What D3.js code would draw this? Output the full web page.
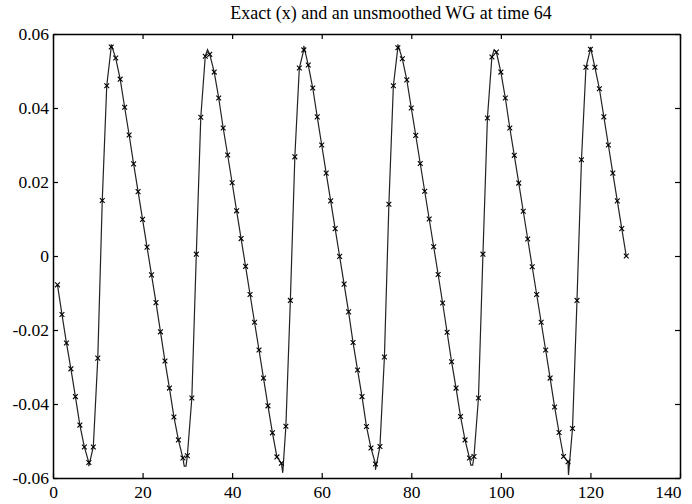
<!DOCTYPE html>
<html>
<head>
<meta charset="utf-8">
<script src="https://cdn.jsdelivr.net/npm/d3@7"></script>
<style>
  body { margin: 0; background: #fff; }
  svg text { font-family: "Liberation Serif", "Times New Roman", serif; fill: #000; }
</style>
</head>
<body>
<script>
// WG solution sampled at the grid points x = 1..128 (plotted with x markers)
var gridX = d3.range(1, 129);
var wgValues = [
  -0.0078, -0.0158, -0.0235, -0.0305, -0.0380, -0.0457, -0.0516, -0.0558, -0.0516, -0.0276,
   0.0150,  0.0460,  0.0565,  0.0535,  0.0478,  0.0402,  0.0327,  0.0249,  0.0174,  0.0099,
   0.0024, -0.0051, -0.0126, -0.0205, -0.0284, -0.0357, -0.0435, -0.0497, -0.0546, -0.0540,
  -0.0384,  0.0005,  0.0375,  0.0540,  0.0545,  0.0497,  0.0427,  0.0346,  0.0273,  0.0198,
   0.0122,  0.0047, -0.0028, -0.0104, -0.0179, -0.0254, -0.0330, -0.0405, -0.0478, -0.0543,
  -0.0560, -0.0460, -0.0120,  0.0268,  0.0508,  0.0557,  0.0516,  0.0454,  0.0376,  0.0300,
   0.0224,  0.0149,  0.0074, -0.0001,
  -0.0076, -0.0151, -0.0234, -0.0308, -0.0380, -0.0461, -0.0519, -0.0562, -0.0515, -0.0273,
   0.0140,  0.0460,  0.0563,  0.0533,  0.0476,  0.0400,  0.0326,  0.0250,  0.0175,  0.0100,
   0.0025, -0.0050, -0.0127, -0.0206, -0.0286, -0.0357, -0.0434, -0.0497, -0.0546, -0.0542,
  -0.0384,  0.0005,  0.0373,  0.0538,  0.0551,  0.0497,  0.0427,  0.0346,  0.0272,  0.0197,
   0.0121,  0.0046, -0.0029, -0.0104, -0.0179, -0.0254, -0.0330, -0.0408, -0.0477, -0.0542,
  -0.0556, -0.0466, -0.0120,  0.0260,  0.0510,  0.0559,  0.0510,  0.0452,  0.0376,  0.0300,
   0.0224,  0.0149,  0.0074,  0.0000
];

// extra turning points of the exact curve (it dips / peaks past the samples)
var exactExtraX = [8.0, 13.0, 29.3, 29.7, 34.5, 51.3, 56.0, 72.0, 77.0, 93.3, 93.7, 98.5, 115.1, 120.0];
var exactExtraY = [-0.0568, 0.0572, -0.0568, -0.0568, 0.0558, -0.0586, 0.0568, -0.0578, 0.0572, -0.0565, -0.0565, 0.0557, -0.0592, 0.0565];

var xTicks = [0, 20, 40, 60, 80, 100, 120, 140];
var yTicks = [-0.06, -0.04, -0.02, 0, 0.02, 0.04, 0.06];
var yTickLabels = ["-0.06", "-0.04", "-0.02", "0", "0.02", "0.04", "0.06"];
var title = "Exact (x) and an unsmoothed WG at time 64";

function init(){
    var w = 692;
    var h = 504;
    var left = 53, right = 680, top = 34, bottom = 478;

    var svg = d3.select("body")
                .append("svg")
                .attr("width", w)
                .attr("height", h);

    var x = d3.scaleLinear().domain([0, 140]).range([left, right]);
    var y = d3.scaleLinear().domain([-0.06, 0.06]).range([bottom, top]);

    // exact curve: samples plus its turning points, sorted by x
    var exact = gridX.map(function(d, i){ return [d, wgValues[i]]; })
        .concat(exactExtraX.map(function(d, i){ return [d, exactExtraY[i]]; }))
        .sort(function(a, b){ return a[0] - b[0]; });

    var line = d3.line()
                 .x(function(d){ return x(d[0]); })
                 .y(function(d){ return y(d[1]); });

    svg.append("path")
       .datum(exact)
       .attr("fill", "none")
       .attr("stroke", "#222")
       .attr("stroke-width", 1.2)
       .attr("d", line);

    // x markers
    var s = 2.4;
    svg.selectAll("path.mark")
       .data(gridX)
       .enter()
       .append("path")
       .attr("class", "mark")
       .attr("fill", "none")
       .attr("stroke", "#000")
       .attr("stroke-width", 1.1)
       .attr("d", function(d, i){
           var cx = x(d), cy = y(wgValues[i]);
           return "M" + (cx - s) + "," + (cy - s) + "L" + (cx + s) + "," + (cy + s) +
                  "M" + (cx - s) + "," + (cy + s) + "L" + (cx + s) + "," + (cy - s);
       });

    // axes with inward ticks on all four sides
    var yFmt = function(d){ return yTickLabels[yTicks.indexOf(d)]; };

    var gx = svg.append("g")
       .attr("transform", "translate(0," + bottom + ")")
       .call(d3.axisBottom(x).tickValues(xTicks).tickSizeInner(-5).tickSizeOuter(0).tickPadding(8));
    var gy = svg.append("g")
       .attr("transform", "translate(" + left + ",0)")
       .call(d3.axisLeft(y).tickValues(yTicks).tickFormat(yFmt).tickSizeInner(-5).tickSizeOuter(0).tickPadding(4));
    var gt = svg.append("g")
       .attr("transform", "translate(0," + top + ")")
       .call(d3.axisTop(x).tickValues(xTicks).tickFormat("").tickSizeInner(-5).tickSizeOuter(0));
    var gr = svg.append("g")
       .attr("transform", "translate(" + right + ",0)")
       .call(d3.axisRight(y).tickValues(yTicks).tickFormat("").tickSizeInner(-5).tickSizeOuter(0));

    [gx, gy, gt, gr].forEach(function(g){
        g.selectAll("path.domain").attr("stroke", "#000").attr("stroke-width", 1.5);
        g.selectAll(".tick line").attr("stroke", "#000").attr("stroke-width", 1.2);
        g.selectAll("text")
         .attr("font-family", "'Liberation Serif', 'Times New Roman', serif")
         .attr("font-size", 17.5)
         .attr("fill", "#000");
    });

    // last x label is pulled in so it ends at the frame
    gx.selectAll(".tick text")
      .filter(function(d){ return d === 140; })
      .attr("text-anchor", "end")
      .attr("x", 1);

    svg.append("text")
       .attr("x", 391)
       .attr("y", 19)
       .attr("text-anchor", "middle")
       .attr("font-size", 18)
       .text(title);
}
window.onload = init;
</script>
</body>
</html>
